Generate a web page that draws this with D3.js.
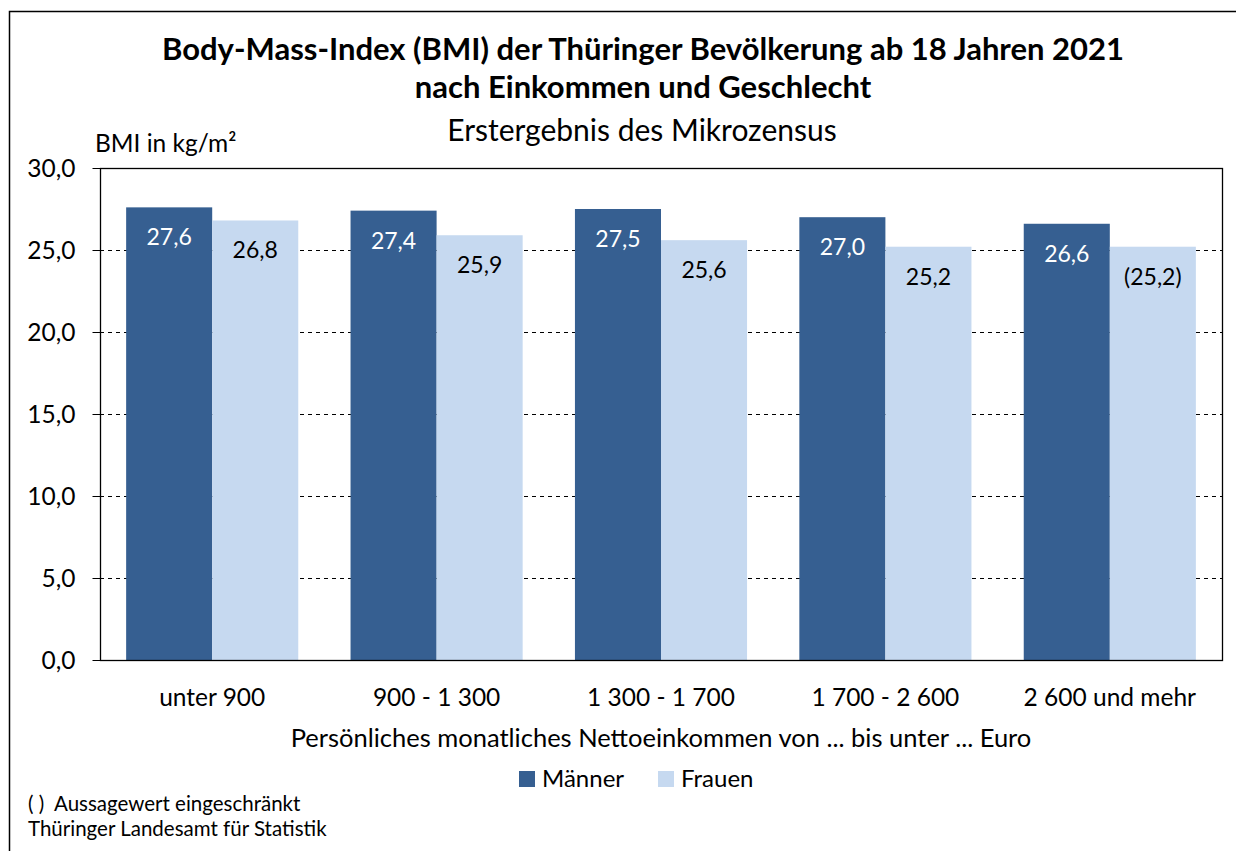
<!DOCTYPE html>
<html><head><meta charset="utf-8">
<script src="https://cdn.jsdelivr.net/npm/d3@7"></script>
<style>
html,body{margin:0;padding:0;background:#fff;}
text{font-family:"Lato","Noto Sans",sans-serif;fill:#000;}
</style></head>
<body>
<svg id="chart" width="1236" height="851"></svg>
<script>
const categories = ["unter 900", "900 - 1 300", "1 300 - 1 700", "1 700 - 2 600", "2 600 und mehr"];
const seriesNames = ["Männer", "Frauen"];
const maenner = [27.6, 27.4, 27.5, 27.0, 26.6];
const frauen = [26.8, 25.9, 25.6, 25.2, 25.2];
const frauenLabels = ["26,8", "25,9", "25,6", "25,2", "(25,2)"];
const maennerLabels = ["27,6", "27,4", "27,5", "27,0", "26,6"];
const yTicks = [0, 5, 10, 15, 20, 25, 30];
const colors = ["#365f91", "#c6d9f0"];

const svg = d3.select("#chart");
const m = {left: 100, top: 168, right: 1222, bottom: 660};
const W = m.right - m.left, H = m.bottom - m.top;

// outer frame
svg.append("path").attr("d", "M9.5,851 V11.5 H1236").attr("fill", "none").attr("stroke", "#000").attr("stroke-width", 1.5);

svg.append("text").attr("x", 643).attr("y", 60).attr("text-anchor", "middle")
  .style("font-weight", "bold").style("font-size", "31px")
  .text("Body-Mass-Index (BMI) der Thüringer Bevölkerung ab 18 Jahren 2021");
svg.append("text").attr("x", 643).attr("y", 98).attr("text-anchor", "middle")
  .style("font-weight", "bold").style("font-size", "31px")
  .text("nach Einkommen und Geschlecht");
svg.append("text").attr("x", 642).attr("y", 141).attr("text-anchor", "middle")
  .style("font-size", "30px").text("Erstergebnis des Mikrozensus");
svg.append("text").attr("x", 95).attr("y", 152).style("font-size", "24.5px").text("BMI in kg/m²");

const g = svg.append("g").attr("transform", `translate(${m.left},${m.top})`);
const y = d3.scaleLinear().domain([0, 30]).range([H, 0]);
const x0 = d3.scaleBand().domain(categories).range([0, W]).paddingInner(0.233).paddingOuter(0.1165);
const x1 = d3.scaleBand().domain(seriesNames).range([0, x0.bandwidth()]);

// grid
g.append("g").selectAll("line").data(yTicks.filter(t => t > 0 && t < 30)).join("line")
  .attr("x1", 0).attr("x2", W).attr("y1", d => Math.round(y(d)) + 0.5).attr("y2", d => Math.round(y(d)) + 0.5)
  .attr("stroke", "#000").attr("stroke-dasharray", "4,4").attr("stroke-width", 1);

const data = categories.map((c, i) => ({c, vals: [
  {s: "Männer", v: maenner[i], lab: maennerLabels[i]},
  {s: "Frauen", v: frauen[i], lab: frauenLabels[i]}]}));

const groups = g.selectAll("g.grp").data(data).join("g").attr("class", "grp")
  .attr("transform", d => `translate(${x0(d.c)},0)`);
groups.selectAll("rect").data(d => d.vals).join("rect")
  .attr("x", d => x1(d.s)).attr("width", x1.bandwidth())
  .attr("y", d => y(d.v)).attr("height", d => H - y(d.v))
  .attr("fill", (d, i) => colors[i]);
groups.selectAll("text").data(d => d.vals).join("text")
  .attr("x", d => x1(d.s) + x1.bandwidth() / 2).attr("y", d => y(d.v) + 38)
  .attr("text-anchor", "middle").style("font-size", "23px")
  .style("fill", (d, i) => i === 0 ? "#fff" : "#000").text(d => d.lab);

// frame
g.append("rect").attr("x", 0.5).attr("y", 0.5).attr("width", W).attr("height", H)
  .attr("fill", "none").attr("stroke", "#000").attr("stroke-width", 1.3);

// y axis
const yAxis = d3.axisLeft(y).tickValues(yTicks).tickSize(8).tickPadding(17)
  .tickFormat(d => d3.format(".1f")(d).replace(".", ","));
const ya = g.append("g").attr("transform", "translate(0.5,0)").call(yAxis);
ya.select(".domain").remove();
ya.selectAll("text").style("font-size", "24.5px").attr("dy", "0.35em").style("font-family", null);
ya.selectAll("line").attr("stroke", "#000");

// x axis labels
const xa = g.append("g").attr("transform", `translate(0,${H})`).call(d3.axisBottom(x0).tickSize(0).tickPadding(0));
xa.select(".domain").remove();
xa.selectAll("text").attr("y", 46).attr("dy", 0).style("font-size", "24.5px").style("font-family", null);

svg.append("text").attr("x", (m.left + m.right) / 2).attr("y", 747).attr("text-anchor", "middle")
  .style("font-size", "25.5px").text("Persönliches monatliches Nettoeinkommen von ... bis unter ... Euro");

// legend
const legX = [519, 658];
const leg = svg.append("g").selectAll("g").data(seriesNames).join("g")
  .attr("transform", (d, i) => `translate(${legX[i]},771)`);
leg.append("rect").attr("width", 16).attr("height", 16).attr("fill", (d, i) => colors[i]);
leg.append("text").attr("x", 23).attr("y", 16).style("font-size", "24px").text(d => d);

svg.append("text").attr("x", 28).attr("y", 811).style("font-size", "20.5px").attr("xml:space", "preserve").text("( )  Aussagewert eingeschränkt");
svg.append("text").attr("x", 28).attr("y", 836).style("font-size", "20.5px").text("Thüringer Landesamt für Statistik");
</script>
</body></html>
